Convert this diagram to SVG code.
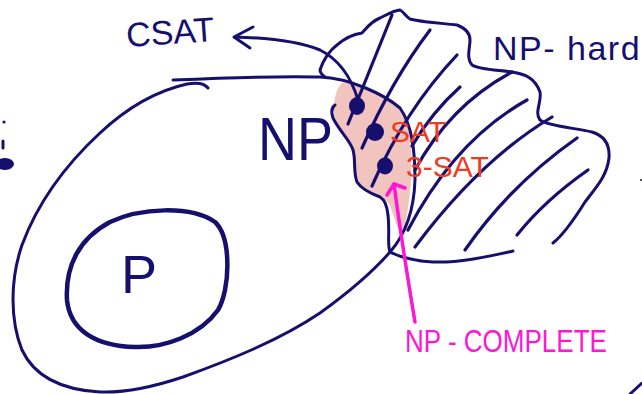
<svg xmlns="http://www.w3.org/2000/svg" width="642" height="394" viewBox="0 0 642 394">
<style>
.ink{fill:none;stroke:#160f6e;stroke-width:3;stroke-linecap:round;stroke-linejoin:round}
.thick{stroke-width:4.5}
.hatch{fill:none;stroke:#160f6e;stroke-width:3.2;stroke-linecap:round}
.lbl{font-family:"Liberation Sans",Arial,sans-serif;fill:#160f6e}
.red{font-family:"Liberation Sans",Arial,sans-serif;fill:#f03a22}
.mag{font-family:"Liberation Sans",Arial,sans-serif;fill:#fb17d3}
.dot{fill:#160f6e}
</style>
<rect width="642" height="394" fill="#ffffff"/>

<g id="np-complete-shade">
<path d="M343,82 C365,84 390,95 402,110 C410,125 413,150 411,180 C409,205 406,225 402,236 C398,230 393,215 390,205 C385,198 372,194 362,188 C355,180 355,165 353,150 C350,138 338,128 334,115 C333,100 336,88 343,82 Z" fill="#f1c4c0"/>
</g>

<g id="np-hard">
<path class="ink" d="M325,77 C321,74 320,72 320,70 C323,60 330,50 337,45 C345,38 355,34 362,33 C365,30 370,22 380,18 C388,14 395,10 400,10 C404,12 405,16 410,19 C420,22 440,23 457,25 C465,28 470,32 470,40 C470,48 466,58 472,65 C480,70 500,70 512,72 C525,74 535,78 540,92 C542,102 534,112 540,120 C548,126 575,128 592,132 C605,136 610,145 609,158 C607,175 598,185 585,202 C575,218 563,235 553,243"/>
<path class="ink" d="M513,251 C490,256 460,263 433,262 C415,261 400,257 390,252 C387,245 390,232 388,215 C387,205 385,200 380,197 C372,194 362,190 357,182 C353,172 356,160 353,150 C350,140 340,132 333,118 C331,112 332,107 335,105"/>
<path class="hatch" d="M392,15 Q370,70 348,124"/>
<path class="hatch" d="M430,30 Q392,80 362,148"/>
<path class="hatch" d="M457,55 Q405,110 372,186"/>
<path class="hatch" d="M460,87 Q432,112 412,146"/>
<path class="hatch" d="M512,72 Q450,105 415,170"/>
<path class="hatch" d="M527,100 Q455,140 408,230"/>
<path class="hatch" d="M552,117 Q480,160 415,247"/>
<path class="hatch" d="M577,138 Q510,185 465,250"/>
<path class="hatch" d="M588,170 Q545,200 517,235"/>
<text class="lbl" x="493" y="60" font-size="34" letter-spacing="1.5">NP- hard</text>
</g>

<g id="np-set">
<path class="ink" d="M173,80 C220,78 290,76 320,77 C350,78 385,95 400,108 C412,125 415,150 415,180 C414,210 405,235 390,252 C370,275 345,295 320,313 C280,340 230,360 183,377 C150,388 125,393 100,392 C65,390 35,378 22,350 C10,320 10,280 22,245 C35,210 60,170 100,133 C130,105 160,90 187,84 C198,82 205,84 208,88"/>
<text class="lbl" x="258" y="160" font-size="62" transform="translate(258,160) scale(0.87,1) translate(-258,-160)">NP</text>
</g>

<g id="p-set">
<path class="ink thick" d="M110,222 C140,208 190,205 215,222 C232,238 230,290 218,310 C200,335 165,348 135,347 C95,346 70,330 67,300 C65,265 80,238 110,222 Z"/>
<text class="lbl" x="121" y="293" font-size="54">P</text>
</g>

<g id="csat">
<text class="lbl" x="127" y="47" font-size="34" transform="rotate(-4 127 47)">CSAT</text>
</g>

<g id="sat-nodes">
<ellipse class="dot" cx="357" cy="106" rx="8" ry="9"/>
<ellipse class="dot" cx="375" cy="132" rx="9" ry="9"/>
<ellipse class="dot" cx="385" cy="166" rx="8" ry="8.5"/>
<text class="red" x="390" y="142" font-size="30">SAT</text>
<text class="red" x="406" y="177" font-size="30">3-SAT</text>
</g>

<g id="np-complete-label">
<text class="mag" x="405" y="352" font-size="31" transform="translate(405,352) scale(0.84,1) translate(-405,-352)">NP - COMPLETE</text>
</g>

<g id="connectors">
<path class="ink" stroke-width="4" d="M358,100 C352,80 340,60 320,50 C300,42 270,38 235,37"/>
<path class="ink" stroke-width="4" d="M253,27 L234,37 L250,48"/>
<path fill="none" stroke="#fb17d3" stroke-width="3.5" stroke-linecap="round" d="M415,322 C408,280 400,230 394,184"/>
<path fill="none" stroke="#fb17d3" stroke-width="3.5" stroke-linecap="round" stroke-linejoin="round" d="M387,195 L394,184 L405,188"/>
</g>

<g id="margin-marks">
<circle class="dot" cx="4" cy="122" r="1.6"/>
<path class="ink" stroke-width="2.5" d="M3,141 L3,148"/>
<ellipse class="dot" cx="5" cy="164" rx="9" ry="6"/>
<circle class="dot" cx="641" cy="180" r="1"/>
<path class="ink" d="M630,394 L642,383"/>
</g>
</svg>
